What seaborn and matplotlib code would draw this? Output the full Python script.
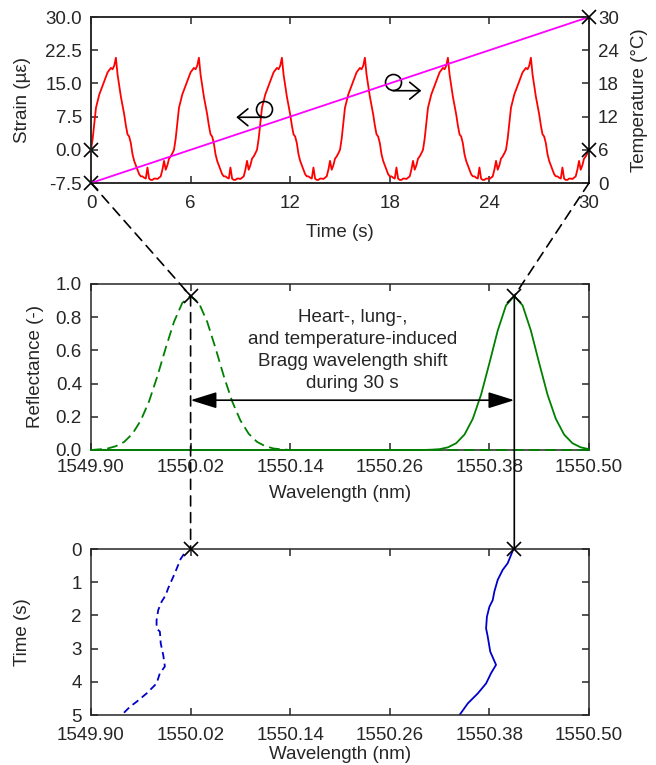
import numpy as np
import pandas as pd
import matplotlib
matplotlib.use("Agg")
import matplotlib.pyplot as plt
import seaborn as sns
from matplotlib.patches import ConnectionPatch

# --- data --------------------------------------------------------------
# strain during one 5 s cycle (every 0.1 s); the record shows 6 such cycles
strain_cycle = [0, 2.5, 6, 9.5, 11, 12.5, 13.5, 14.5, 15.5, 16.5,
                17.5, 18, 18.5, 18.2, 19, 20.8, 17, 14.5, 12, 10,
                8, 5.5, 3.5, 3, 1.5, -1, -2.5, -3.5, -4.5, -5.5,
                -6, -6, -6.3, -6.5, -4, -6.5, -6.8, -6.8, -6.5, -6.5,
                -6.6, -6.3, -6, -4.5, -2.5, -4.5, -3.5, -2, -1.5, -0.8]
n_cycles = 6
temp_time = [0, 30]
temp_vals = [0, 30]

# reflectance spectra at t = 0 s (dashed) and t = 30 s (solid)
wl_start = [1549.90, 1549.91, 1549.92, 1549.93, 1549.94, 1549.95, 1549.96,
            1549.97, 1549.98, 1549.99, 1550.00, 1550.01, 1550.02, 1550.03,
            1550.04, 1550.05, 1550.06, 1550.07, 1550.08, 1550.09, 1550.10,
            1550.11, 1550.12, 1550.13, 1550.14, 1550.50]
refl_start = [0.0, 0.004, 0.009, 0.023, 0.049, 0.098, 0.178, 0.294, 0.445,
              0.614, 0.772, 0.886, 0.928, 0.886, 0.772, 0.614, 0.445, 0.294,
              0.178, 0.098, 0.049, 0.023, 0.009, 0.004, 0.0, 0.0]
wl_end = [1549.90, 1550.30, 1550.31, 1550.32, 1550.33, 1550.34, 1550.35,
          1550.36, 1550.37, 1550.38, 1550.39, 1550.40, 1550.41, 1550.42,
          1550.43, 1550.44, 1550.45, 1550.46, 1550.47, 1550.48, 1550.49,
          1550.50]
refl_end = [0.0, 0.0, 0.002, 0.005, 0.016, 0.041, 0.093, 0.188, 0.334, 0.523,
            0.719, 0.871, 0.928, 0.871, 0.719, 0.523, 0.334, 0.188, 0.093,
            0.041, 0.016, 0.005]

# Bragg wavelength over the first 5 s
track_a_time = [0.15, 0.3, 0.73, 1.18, 1.39, 1.59, 1.84, 2.14, 2.39, 2.49,
                2.84, 3.19, 3.54, 3.74, 4.05, 4.35, 4.6, 4.75, 5.0]
track_a_wl = [1550.012, 1550.008, 1550.001, 1549.993, 1549.990, 1549.985,
              1549.981, 1549.979, 1549.979, 1549.983, 1549.984, 1549.987,
              1549.989, 1549.983, 1549.979, 1549.967, 1549.955, 1549.947,
              1549.937]
track_b_time = [0, 0.43, 0.63, 0.93, 1.28, 1.54, 1.74, 2.04, 2.39, 2.64,
                3.09, 3.49, 3.74, 4.05, 4.35, 4.65, 5.0]
track_b_wl = [1550.409, 1550.402, 1550.396, 1550.390, 1550.386, 1550.384,
              1550.380, 1550.377, 1550.376, 1550.378, 1550.381, 1550.388,
              1550.382, 1550.376, 1550.366, 1550.354, 1550.344]

peak_start = 1550.02
peak_end = 1550.41
peak_refl = 0.928

strain = np.append(np.tile(strain_cycle, n_cycles), 0)
t = np.arange(len(strain)) * 0.1
df_strain = pd.DataFrame({"t": t, "strain": strain})

# --- style ---------------------------------------------------------------
sns.set_theme(style="ticks")
plt.rcParams["font.family"] = ["Liberation Sans", "DejaVu Sans"]
plt.rcParams["font.size"] = 13.5
plt.rcParams["axes.linewidth"] = 1.1
plt.rcParams["xtick.direction"] = "in"
plt.rcParams["ytick.direction"] = "in"
plt.rcParams["xtick.major.size"] = 5
plt.rcParams["ytick.major.size"] = 5
plt.rcParams["xtick.major.width"] = 1.1
plt.rcParams["ytick.major.width"] = 1.1
plt.rcParams["xtick.labelsize"] = 13.5
plt.rcParams["ytick.labelsize"] = 13.5
plt.rcParams["axes.labelsize"] = 13.5

W, H = 656, 765
fig = plt.figure(figsize=(W / 100, H / 100), dpi=100)
ax1 = fig.add_axes([91 / W, 1 - 183 / H, 498 / W, 166 / H])
ax2 = fig.add_axes([91 / W, 1 - 450 / H, 498 / W, 166 / H])
ax3 = fig.add_axes([91 / W, 1 - 715 / H, 498 / W, 166 / H])
ax1r = ax1.twinx()

xmark = dict(marker="x", ms=10.5, mew=1.2, color="black", ls="none",
             clip_on=False, zorder=6)

# top: strain and temperature
sns.lineplot(data=df_strain, x="t", y="strain", ax=ax1, color="red", lw=1.3,
             estimator=None, sort=False)
sns.lineplot(x=temp_time, y=temp_vals, ax=ax1r, color="#ff00ff", lw=1.3)
ax1.plot([0, 0], [0, -7.5], **xmark)
ax1r.plot([30, 30], [30, 6], **xmark)

ax1.set_xlim(0, 30)
ax1.set_ylim(-7.5, 30)
ax1r.set_ylim(0, 30)
ax1.set_xticks(np.arange(0, 31, 6))
ax1.set_yticks([-7.5, 0, 7.5, 15, 22.5, 30])
ax1.set_yticklabels(["-7.5", "0.0", "7.5", "15.0", "22.5", "30.0"])
ax1r.set_yticks(np.arange(0, 31, 6))
ax1.tick_params(axis="x", top=True, pad=9)
ax1.tick_params(axis="y", pad=6.5)
ax1r.tick_params(axis="y", pad=6.5)
ax1.set_xlabel("Time (s)", va="center")
ax1.xaxis.set_label_coords(0.5, -0.30)
ax1.set_ylabel("Strain (µε)", va="center")
ax1.yaxis.set_label_coords(-0.138, 0.5)
ax1r.set_ylabel("Temperature (°C)", va="center")
ax1r.yaxis.set_label_coords(1.102, 0.5)

# circle + arrow markers telling which axis each curve belongs to
ax1.plot(10.44, 9.14, marker="o", ms=11.5, mfc="none", mec="black", mew=1.2)
ax1.annotate("", xy=(8.75, 7.35), xytext=(10.44, 7.35),
             arrowprops=dict(arrowstyle="->,head_length=0.55,head_width=0.45",
                             lw=1.2, color="black", shrinkA=0, shrinkB=0))
ax1.plot(18.2, 15.4, marker="o", ms=11.5, mfc="none", mec="black", mew=1.2)
ax1.annotate("", xy=(19.9, 13.35), xytext=(18.2, 13.35),
             arrowprops=dict(arrowstyle="->,head_length=0.55,head_width=0.45",
                             lw=1.2, color="black", shrinkA=0, shrinkB=0))

# middle: reflectance spectra
green = "#008000"
sns.lineplot(x=wl_start, y=refl_start, ax=ax2, color=green, lw=1.3,
             linestyle=(0, (6, 3)), estimator=None, sort=False,
             clip_on=False, zorder=3)
sns.lineplot(x=wl_end, y=refl_end, ax=ax2, color=green, lw=1.3,
             estimator=None, sort=False, clip_on=False, zorder=3)
ax2.plot([peak_start, peak_end], [peak_refl, peak_refl], **xmark)
ax2.set_xlim(1549.90, 1550.50)
ax2.set_ylim(0, 1.0)
xt = [1549.90, 1550.02, 1550.14, 1550.26, 1550.38, 1550.50]
ax2.set_xticks(xt)
ax2.set_xticklabels([f"{v:.2f}" for v in xt])
ax2.set_yticks(np.arange(0, 1.01, 0.2))
ax2.set_yticklabels([f"{v:.1f}" for v in np.arange(0, 1.01, 0.2)])
ax2.tick_params(axis="x", top=True, pad=6.5)
ax2.tick_params(axis="y", right=True, pad=6.5)
ax2.set_xlabel("Wavelength (nm)", va="center")
ax2.xaxis.set_label_coords(0.5, -0.26)
ax2.set_ylabel("Reflectance (-)", va="center")
ax2.yaxis.set_label_coords(-0.112, 0.5)

ax2.annotate("", xy=(peak_start, 0.3), xytext=(peak_end, 0.3),
             arrowprops=dict(arrowstyle="<|-|>,head_length=1.6,head_width=0.5",
                             mutation_scale=10, lw=1.2, color="black",
                             shrinkA=0, shrinkB=0))
ax2.text(1550.215, 0.60,
         "Heart-, lung-,\nand temperature-induced\nBragg wavelength shift\nduring 30 s",
         ha="center", va="center", linespacing=1.4, fontsize=13.5)

# bottom: wavelength tracks over time
sns.lineplot(x=track_a_wl, y=track_a_time, ax=ax3, color="#0000cc", lw=1.3,
             linestyle=(0, (4, 2.5)), estimator=None, sort=False)
sns.lineplot(x=track_b_wl, y=track_b_time, ax=ax3, color="#0000cc", lw=1.3,
             estimator=None, sort=False)
ax3.plot([peak_start, peak_end], [0, 0], **xmark)
ax3.set_xlim(1549.90, 1550.50)
ax3.set_ylim(5, 0)
ax3.set_xticks(xt)
ax3.set_xticklabels([f"{v:.2f}" for v in xt])
ax3.set_yticks(range(6))
ax3.tick_params(axis="x", top=True, pad=8.5)
ax3.tick_params(axis="y", right=True, pad=6.5)
ax3.set_xlabel("Wavelength (nm)", va="center")
ax3.xaxis.set_label_coords(0.5, -0.24)
ax3.set_ylabel("Time (s)", va="center")
ax3.yaxis.set_label_coords(-0.138, 0.5)

# connectors between panels
conn = [
    ((0, -7.5), ax1, (peak_start, peak_refl), ax2, (0, (6, 4))),
    ((30, -7.5), ax1, (peak_end, peak_refl), ax2, (0, (6, 4))),
    ((peak_start, peak_refl), ax2, (peak_start, 0), ax3, (0, (6, 4))),
    ((peak_end, peak_refl), ax2, (peak_end, 0), ax3, "-"),
]
for xyA, axA, xyB, axB, ls in conn:
    cp = ConnectionPatch(xyA=xyA, coordsA=axA.transData, xyB=xyB,
                         coordsB=axB.transData, color="black", lw=1.2,
                         linestyle=ls, zorder=5)
    fig.add_artist(cp)

fig.savefig("out.png", dpi=100)
